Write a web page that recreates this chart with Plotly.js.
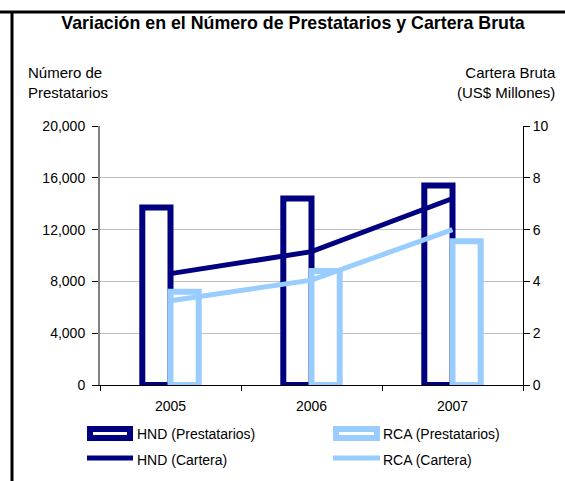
<!DOCTYPE html>
<html>
<head>
<meta charset="utf-8">
<script src="https://cdn.plot.ly/plotly-3.0.1.min.js"></script>
<style>
html,body{margin:0;padding:0;background:#fff;}
#chart{width:565px;height:481px;}
</style>
</head>
<body>
<div id="chart"></div>
<script>
var years = ['2005', '2006', '2007'];
var hndPrestatarios = [13700, 14400, 15400];
var rcaPrestatarios = [7200, 8800, 11100];
var hndCartera = [4.3, 5.15, 7.2];
var rcaCartera = [3.25, 4.05, 6.0];
var leftTicks = [0, 4000, 8000, 12000, 16000, 20000];
var leftTickText = ['0', '4,000', '8,000', '12,000', '16,000', '20,000'];
var rightTicks = [0, 2, 4, 6, 8, 10];

var NAVY = '#000080';
var LIGHT = '#99CCFF';
var FONT = 'Liberation Sans, Arial, sans-serif';

var W = 565, H = 481;
var L = 100, R = 42, T = 126, B = 96;
var pw = W - L - R, ph = H - T - B;
function px(x) { return (x - L) / pw; }
function py(y) { return (H - B - y) / ph; }

var traces = [
  {type: 'bar', x: years, y: hndPrestatarios, name: 'HND (Prestatarios)',
   marker: {color: '#ffffff', line: {color: NAVY, width: 6}}, showlegend: false},
  {type: 'bar', x: years, y: rcaPrestatarios, name: 'RCA (Prestatarios)',
   marker: {color: '#ffffff', line: {color: LIGHT, width: 6}}, showlegend: false},
  {type: 'scatter', mode: 'lines', x: years, y: hndCartera, yaxis: 'y2', name: 'HND (Cartera)',
   line: {color: NAVY, width: 5}, showlegend: false},
  {type: 'scatter', mode: 'lines', x: years, y: rcaCartera, yaxis: 'y2', name: 'RCA (Cartera)',
   line: {color: LIGHT, width: 5}, showlegend: false}
];

var shapes = [
  {type: 'line', xref: 'paper', yref: 'paper', x0: px(0), x1: px(W), y0: py(12), y1: py(12), line: {color: '#000', width: 3}},
  {type: 'line', xref: 'paper', yref: 'paper', x0: px(12), x1: px(12), y0: py(12), y1: py(H), line: {color: '#000', width: 3}},
  // legend symbols
  {type: 'rect', xref: 'paper', yref: 'paper', x0: px(90), x1: px(130), y0: py(429), y1: py(438), line: {color: NAVY, width: 6}, fillcolor: '#fff'},
  {type: 'line', xref: 'paper', yref: 'paper', x0: px(87), x1: px(133), y0: py(458), y1: py(458), line: {color: NAVY, width: 5}},
  {type: 'rect', xref: 'paper', yref: 'paper', x0: px(336), x1: px(377), y0: py(429), y1: py(438), line: {color: LIGHT, width: 6}, fillcolor: '#fff'},
  {type: 'line', xref: 'paper', yref: 'paper', x0: px(333), x1: px(380), y0: py(458), y1: py(458), line: {color: LIGHT, width: 5}}
];

var annotations = [
  {text: 'Número de<br>Prestatarios', xref: 'paper', yref: 'paper', x: px(26), y: py(62), xanchor: 'left', yanchor: 'top', align: 'left', showarrow: false, font: {family: FONT, size: 15, color: '#000'}},
  {text: 'Cartera Bruta<br>(US$ Millones)', xref: 'paper', yref: 'paper', x: px(558), y: py(62), xanchor: 'right', yanchor: 'top', align: 'right', showarrow: false, font: {family: FONT, size: 15, color: '#000'}},
  {text: 'HND (Prestatarios)', xref: 'paper', yref: 'paper', x: px(135), y: py(434), xanchor: 'left', yanchor: 'middle', showarrow: false, font: {family: FONT, size: 14, color: '#000'}},
  {text: 'RCA (Prestatarios)', xref: 'paper', yref: 'paper', x: px(381), y: py(434), xanchor: 'left', yanchor: 'middle', showarrow: false, font: {family: FONT, size: 14, color: '#000'}},
  {text: 'HND (Cartera)', xref: 'paper', yref: 'paper', x: px(135), y: py(460), xanchor: 'left', yanchor: 'middle', showarrow: false, font: {family: FONT, size: 14, color: '#000'}},
  {text: 'RCA (Cartera)', xref: 'paper', yref: 'paper', x: px(381), y: py(460), xanchor: 'left', yanchor: 'middle', showarrow: false, font: {family: FONT, size: 14, color: '#000'}}
];

var layout = {
  width: W, height: H,
  margin: {l: L, r: R, t: T, b: B, pad: 0},
  paper_bgcolor: '#fff', plot_bgcolor: '#fff',
  font: {family: FONT, size: 14, color: '#000'},
  title: {text: '<b>Variación en el Número de Prestatarios y Cartera Bruta</b>', x: px(293), xanchor: 'center', y: 1 - 23 / H, yanchor: 'middle', xref: 'paper', font: {family: FONT, size: 17.8, color: '#000'}},
  barmode: 'group', bargap: 0.6, bargroupgap: 0,
  showlegend: false,
  xaxis: {type: 'category', showline: true, linecolor: '#000', linewidth: 1, ticks: 'outside', tickson: 'boundaries', ticklen: 5, tickcolor: '#000', showgrid: false, zeroline: false, tickfont: {size: 14}, ticklabelstandoff: 8},
  yaxis: {range: [0, 20000], tickvals: leftTicks, ticktext: leftTickText, showline: true, linecolor: '#808080', linewidth: 2, ticks: 'outside', ticklen: 6, tickcolor: '#000', showgrid: true, gridcolor: '#c0c0c0', gridwidth: 1, zeroline: false, tickfont: {size: 14}, ticklabelstandoff: 4},
  yaxis2: {range: [0, 10], tickvals: rightTicks, overlaying: 'y', side: 'right', showline: true, linecolor: '#000', linewidth: 1, ticks: 'outside', ticklen: 6, tickcolor: '#000', showgrid: false, zeroline: false, tickfont: {size: 14}},
  shapes: shapes,
  annotations: annotations
};

Plotly.newPlot('chart', traces, layout, {displayModeBar: false, staticPlot: true});
</script>
</body>
</html>
